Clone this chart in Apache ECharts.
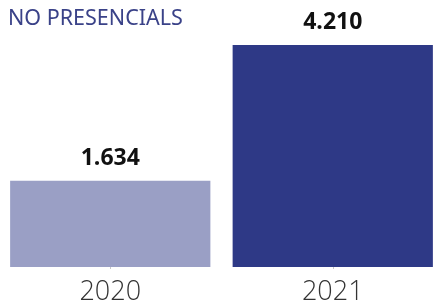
<!DOCTYPE html>
<html>
<head>
<meta charset="utf-8">
<script src="https://cdn.jsdelivr.net/npm/echarts@6/dist/echarts.min.js"></script>
<style>
  html, body { margin: 0; padding: 0; background: #fff; }
  #chart { width: 435px; height: 300px; }
</style>
</head>
<body>
<div id="chart"></div>
<script>
// dades
var years = ["2020", "2021"];
var noPresencials = [1634, 4210];
var barColors = ["#9a9fc5", "#2e3986"];

// format amb punt de milers
function fmt(v) {
  return String(v).replace(/\B(?=(\d{3})+(?!\d))/g, ".");
}

var myChart = echarts.init(document.getElementById("chart"));
myChart.setOption({
  animation: false,
  title: {
    text: "NO PRESENCIALS",
    left: 3,
    top: 3,
    textStyle: {
      color: "#3a4288",
      fontFamily: "Noto Sans",
      fontWeight: "normal",
      fontSize: 21.5
    }
  },
  grid: { left: -1, width: 445, top: 45, bottom: 33, outerBoundsMode: "none", containLabel: false },
  xAxis: {
    type: "category",
    data: years,
    axisLine: { show: false },
    axisTick: { show: true, alignWithLabel: true, length: 2, lineStyle: { color: "#c8c8c8" } },
    axisLabel: {
      color: "#333",
      fontFamily: "Open Sans",
      fontWeight: 300,
      fontSize: 27,
      margin: 12
    }
  },
  yAxis: {
    type: "value",
    min: 0,
    max: "dataMax",
    show: false,
    splitLine: { show: false }
  },
  series: [
    {
      type: "bar",
      data: noPresencials.map(function (v, i) {
        return { value: v, itemStyle: { color: barColors[i] } };
      }),
      barWidth: "90%",
      label: {
        show: true,
        position: "top",
        distance: 11,
        formatter: function (p) { return fmt(p.value); },
        color: "#111",
        fontFamily: "Open Sans",
        fontWeight: "bold",
        fontSize: 23
      }
    }
  ]
});
</script>
</body>
</html>
